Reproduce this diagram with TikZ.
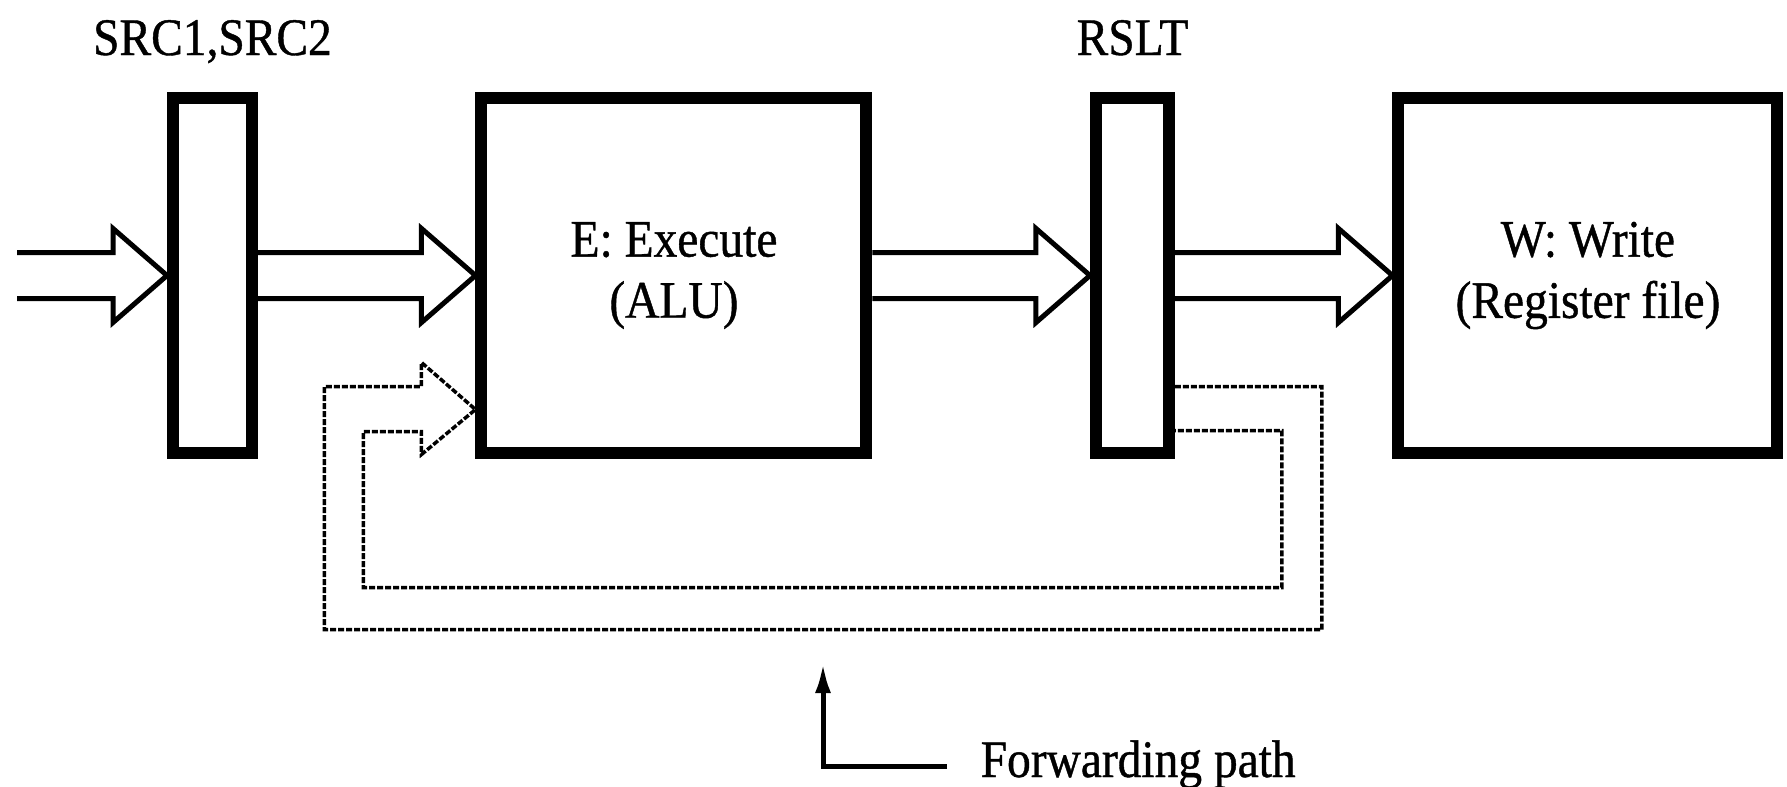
\documentclass[tikz,border=0pt]{standalone}
\usepackage{fontspec}
\setmainfont[FakeStretch=0.9, FakeBold=0.8]{Liberation Serif}
\usepackage{tikz}
\usetikzlibrary{arrows.meta,positioning,calc}
\newcommand\lblsize{\fontsize{15}{17.4}\selectfont}
\tikzset{
  reg/.style={draw, line width=1.2mm, minimum height=35.5mm, minimum width=7.9mm, inner sep=0pt},
  stage/.style={reg, minimum width=38.5mm, align=center, font=\lblsize},
  lbl/.style={font=\lblsize, inner sep=0pt},
  fat/.style={line width=0.5mm, line join=miter},
  fwd/.style={line width=0.35mm, dash pattern=on 0.6mm off 0.2mm},
  ptr/.style={-{Latex[length=3mm,width=1.6mm]}, line width=0.5mm}
}
\newcommand\fatarrow[2]{%
  \draw[fat] ($#1+(0,-23)$) -- ($(#2.west)+(-54,-23)$) -- ++(0,-24) -- (#2.west)
    -- ($(#2.west)+(-54,47)$) -- ++(0,-24) -- ($#1+(0,23)$);}

\begin{document}
\begin{tikzpicture}[x=0.1mm, y=-0.1mm, node distance=21.75mm]
  \useasboundingbox (0,0) rectangle (1787,787);
  \node[reg] (src) at (212.5,275.5) {};
  \node[stage, right=of src] (ex) {E: Execute\\(ALU)};
  \node[reg, right=of ex, minimum width=7.3mm] (rslt) {};
  \node[stage, right=of rslt, minimum width=37.9mm] (wr) {W: Write\\(Register file)};
  \node[lbl, anchor=base] (srclbl) at ([yshift=3.7mm]src.north) {SRC1,SRC2};
  \node[lbl, anchor=base] (rsltlbl) at ([yshift=3.7mm]rslt.north) {RSLT};
  \coordinate (in) at (17,275.5);
  \fatarrow{(in)}{src}
  \fatarrow{(src.east)}{ex}
  \fatarrow{(ex.east)}{rslt}
  \fatarrow{(rslt.east)}{wr}
  \coordinate (ftip) at ($(ex.west)+(0,134)$);
  \draw[fwd] ($(rslt.east)+(0,111)$) -- ++(147,0) -- ++(0,243) -| ($(ftip)+(-151,-23)$)
    -- ($(ftip)+(-54,-23)$) -- ($(ftip)+(-54,-47)$) -- (ftip) -- ($(ftip)+(-54,45)$)
    -- ($(ftip)+(-54,22)$) -- ($(ftip)+(-112,22)$) -- ++(0,156) -| ($(rslt.east)+(107,155)$)
    -- ($(rslt.east)+(0,155)$);
  \node[lbl, anchor=base west] (fwdlbl) at (980,777) {Forwarding path};
  \coordinate (fwdtip) at (823,663);
  \draw[ptr] ($(fwdlbl.west)+(-33,2)$) -| (fwdtip);
\end{tikzpicture}
\end{document}
